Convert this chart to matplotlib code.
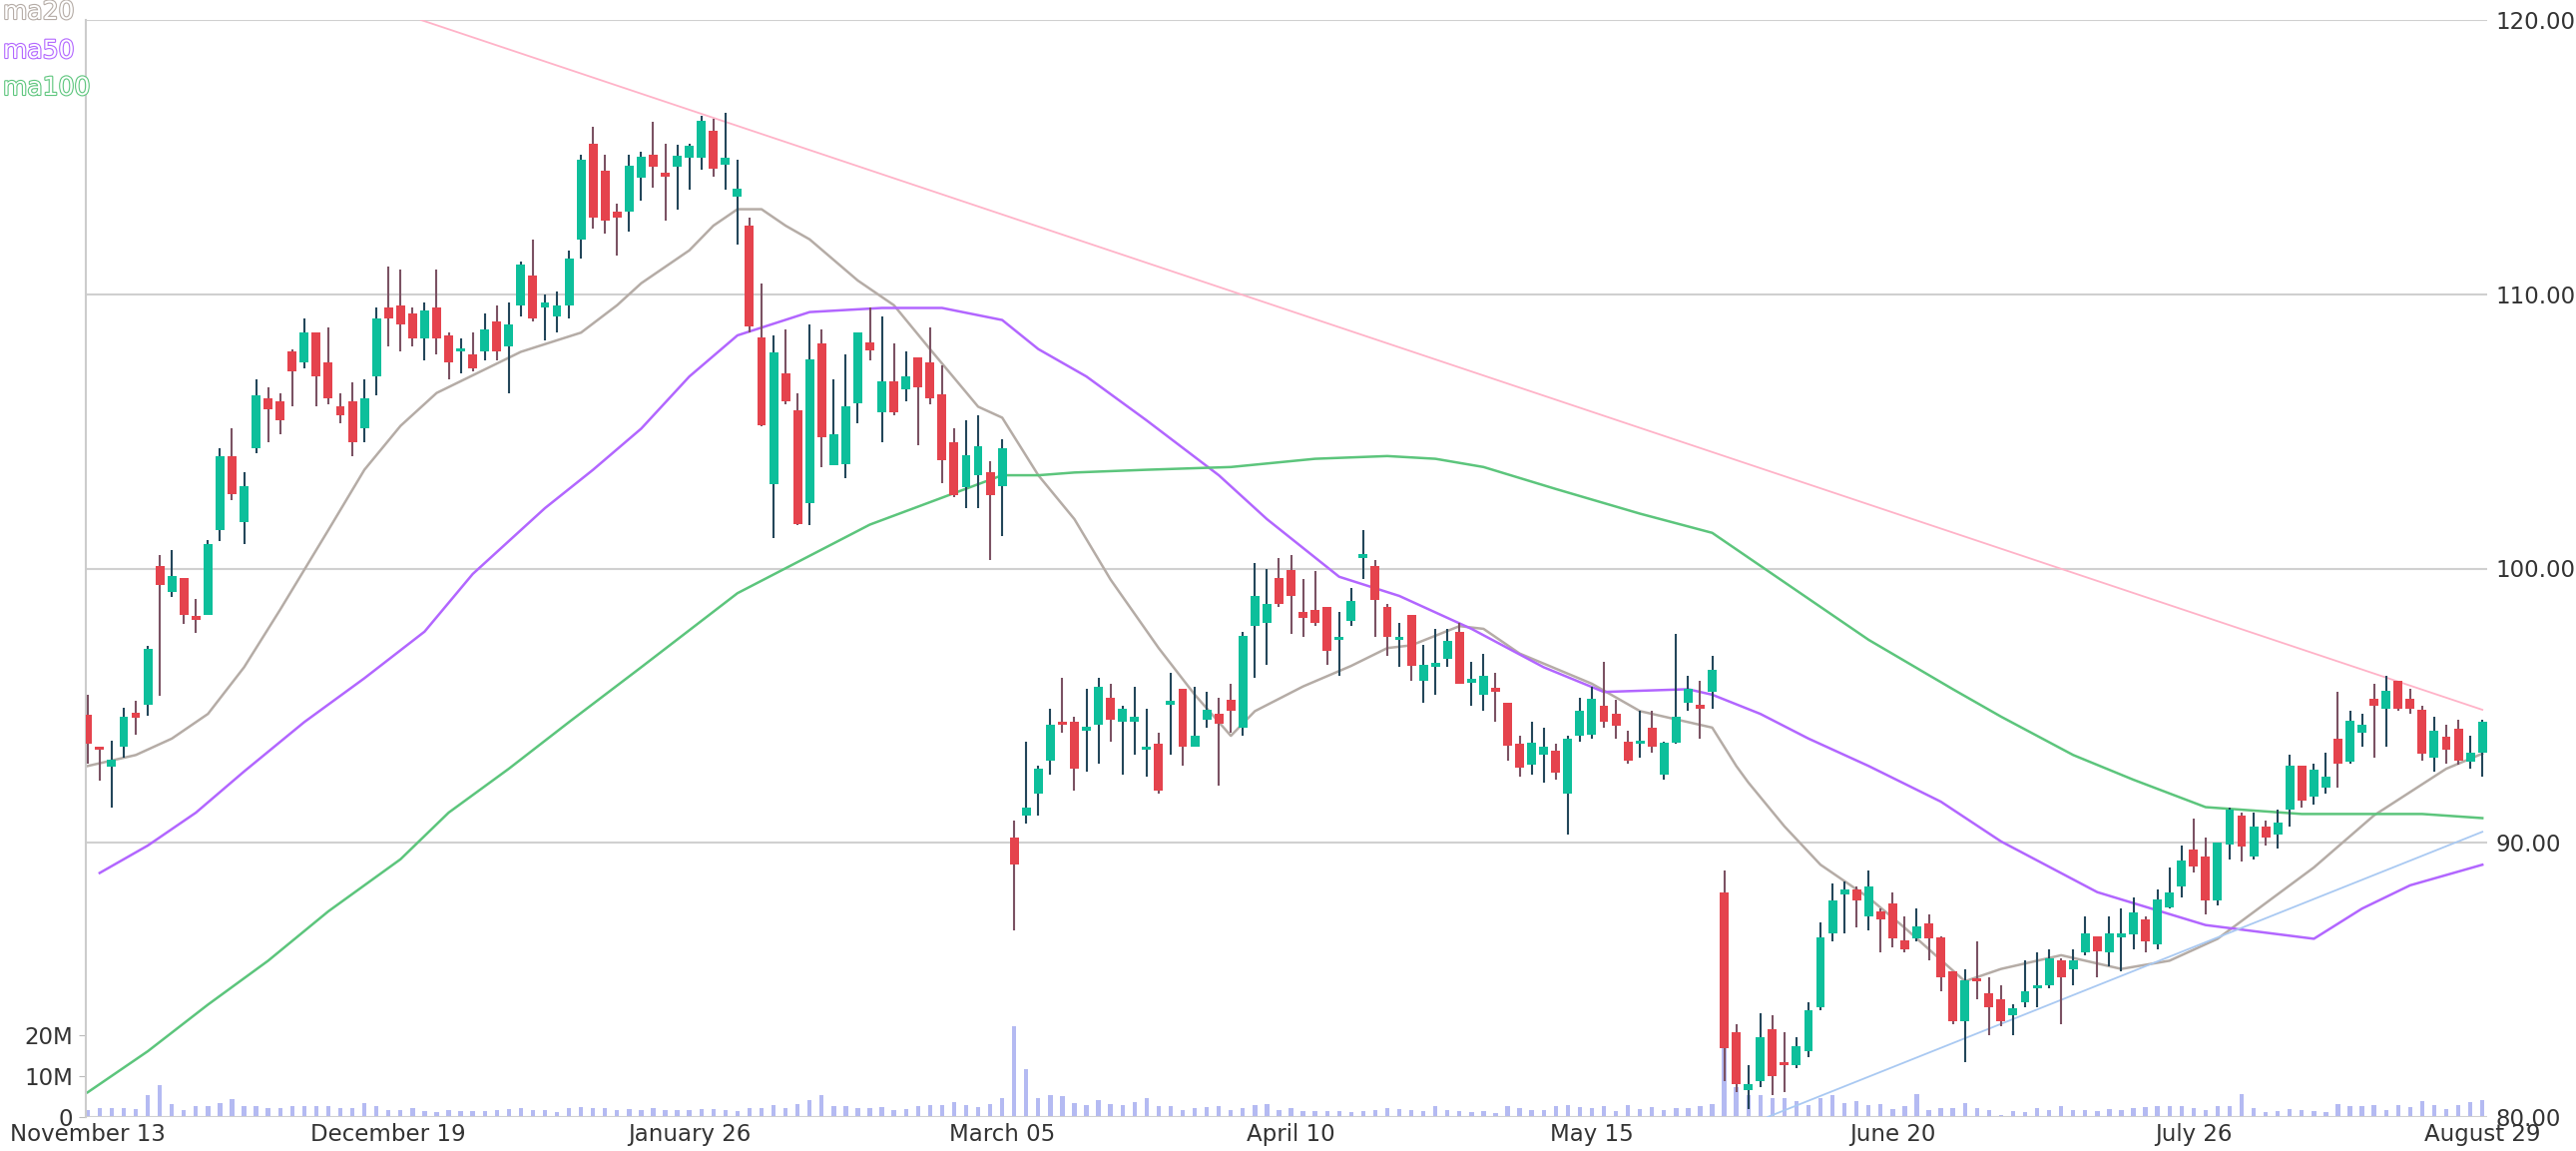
import matplotlib
matplotlib.use("Agg")
import matplotlib.pyplot as plt
import matplotlib.patheffects as pe
import numpy as np

opens = [94.67,93.43,92.76,93.49,94.74,95.04,100.1,99.16,99.65,98.28,98.32,101.4,104.1,101.7,104.4,106.2,106.1,107.9,107.5,108.6,
107.5,105.9,106.1,105.1,107.0,109.5,109.6,109.3,108.4,109.5,108.5,107.9,107.8,107.9,109.0,108.1,109.6,110.7,109.5,109.2,
109.6,112.0,115.5,114.5,113.0,113.0,114.24,115.08,114.4,114.64,114.97,114.99,115.96,114.73,113.57,112.52,108.42,103.06,107.1,105.78,
102.37,108.19,103.75,103.81,106.03,108.26,105.71,106.84,106.52,107.69,107.52,106.36,104.6,102.97,103.41,103.52,103.0,90.2,91.0,91.8,
93.0,94.4,94.4,94.1,94.3,95.3,94.4,94.4,93.4,93.6,95.05,95.6,93.5,94.5,94.7,95.2,94.2,97.9,98.0,99.65,
99.95,98.4,98.5,98.6,97.4,98.1,100.4,100.1,98.6,97.4,98.3,95.9,96.4,96.7,97.7,95.85,95.4,95.65,95.1,93.6,
92.85,93.2,93.35,91.8,93.9,93.95,95.0,94.7,93.7,93.6,94.2,92.5,93.65,95.1,95.05,95.5,88.2,83.1,81.0,81.3,
83.2,82.0,81.9,82.4,84.0,86.7,88.1,88.3,87.3,87.5,87.8,86.45,86.5,87.05,86.55,85.3,83.5,85.05,84.5,84.3,
83.7,84.2,84.7,84.8,85.7,85.4,86.0,86.6,86.0,86.55,86.65,87.2,86.3,87.65,88.4,89.75,89.5,87.9,89.95,91.0,
89.5,90.6,90.3,91.2,92.8,91.7,92.0,93.8,92.95,94.0,95.25,94.9,95.9,95.25,94.85,93.1,93.85,94.15,92.95,93.3]
closes = [93.61,93.40,93.04,94.58,94.55,97.07,99.4,99.73,98.31,98.14,100.9,104.1,102.7,103.0,106.3,105.8,105.4,107.2,108.6,107.0,
106.2,105.6,104.6,106.2,109.1,109.1,108.9,108.4,109.4,108.4,107.5,108.0,107.3,108.7,107.9,108.9,111.1,109.1,109.7,109.6,
111.3,114.9,112.8,112.7,112.8,114.7,115.0,114.65,114.3,115.05,115.42,116.33,114.57,114.99,113.86,108.82,105.24,107.88,106.1,101.62,
107.64,104.78,104.88,105.91,108.59,107.96,106.84,105.69,107.02,106.62,106.22,103.95,102.66,104.13,104.46,102.66,104.4,89.2,91.3,92.7,
94.3,94.3,92.7,94.2,95.7,94.5,94.9,94.6,93.5,91.9,95.15,93.5,93.9,94.85,94.35,94.8,97.55,99.0,98.7,98.7,
99.0,98.2,98.0,97.0,97.5,98.8,100.5,98.85,97.5,97.5,96.45,96.5,96.55,97.35,95.8,95.95,96.1,95.5,93.55,92.75,
93.65,93.5,92.55,93.8,94.8,95.25,94.4,94.25,93.0,93.7,93.5,93.65,94.6,95.6,94.9,96.3,82.5,81.2,81.2,82.9,
81.5,81.9,82.6,83.9,86.55,87.9,88.3,87.9,88.4,87.2,86.5,86.1,86.95,86.5,85.1,83.5,85.0,84.95,84.0,83.5,
83.95,84.6,84.8,85.8,85.1,85.7,86.7,86.05,86.7,86.7,87.45,86.4,87.95,88.2,89.35,89.15,87.9,90.0,91.2,89.85,
90.6,90.2,90.75,92.8,91.55,92.65,92.4,92.9,94.45,94.3,95.0,95.55,94.9,94.9,93.25,94.1,93.4,93.0,93.3,94.4]
highs = [95.4,93.5,93.71,94.91,95.16,97.19,100.49,100.68,99.65,98.9,101.04,104.4,105.1,103.5,106.9,106.6,106.4,108.0,109.1,108.6,
108.8,106.4,106.8,106.9,109.5,111.0,110.9,109.5,109.7,110.9,108.6,108.4,108.6,109.3,109.6,109.7,111.2,112.0,110.0,110.1,
111.6,115.1,116.1,115.1,113.3,115.1,115.2,116.3,115.5,115.45,115.5,116.5,116.4,116.6,114.9,112.8,110.4,108.5,108.7,106.4,
108.9,108.7,106.9,107.8,108.6,109.5,109.2,108.2,107.9,107.7,108.8,107.4,105.1,105.4,105.6,103.9,104.7,90.8,93.7,92.8,
94.9,96.0,94.6,95.6,96.0,95.8,95.0,95.7,94.9,94.0,96.2,95.6,95.7,95.5,95.3,95.8,97.7,100.2,100.0,100.4,
100.5,99.6,99.9,98.6,98.4,99.3,101.4,100.3,98.7,98.0,98.3,97.2,97.8,97.8,98.0,96.6,96.9,96.2,95.1,93.9,
94.4,94.2,93.6,93.9,95.3,95.7,96.6,95.2,94.1,94.8,94.8,93.7,97.6,96.1,95.9,96.8,89.0,83.4,81.9,83.8,
83.7,83.1,82.9,84.2,87.1,88.5,88.6,88.4,89.0,87.6,88.2,87.3,87.6,87.4,86.6,85.3,85.4,86.4,85.1,84.8,
84.1,85.7,86.0,86.1,85.8,86.1,87.3,86.6,87.3,87.6,88.0,87.3,88.3,89.1,89.9,90.9,90.2,90.0,91.3,91.1,
91.1,90.8,91.2,93.2,92.8,92.9,93.3,95.5,94.8,94.7,95.8,96.1,95.9,95.6,95.0,94.6,94.3,94.5,93.9,94.5]
lows = [92.9,92.25,91.27,93.1,93.94,94.64,95.37,98.95,97.98,97.65,98.32,101.0,102.5,100.9,104.2,104.6,104.9,105.9,107.3,105.9,
106.0,105.3,104.1,104.6,106.3,108.1,107.9,108.1,107.6,107.8,106.9,107.1,107.2,107.6,107.6,106.4,109.2,109.0,108.3,108.6,
109.1,111.3,112.4,112.2,111.4,112.3,113.4,113.9,112.7,113.1,113.8,114.55,114.3,113.8,111.8,108.6,105.2,101.1,106.0,101.6,
101.6,103.7,103.75,103.3,105.3,107.6,104.6,105.6,106.1,104.5,106.0,103.1,102.6,102.2,102.2,100.3,101.2,86.8,90.7,91.0,
92.5,94.0,91.9,92.6,92.9,93.7,92.5,93.2,92.4,91.8,93.2,92.8,93.5,94.2,92.1,94.0,93.9,96.0,96.5,98.6,
97.6,97.5,97.9,96.5,96.1,97.9,99.6,97.5,96.8,96.4,95.9,95.1,95.4,96.4,95.8,95.0,94.8,94.4,93.0,92.4,
92.5,92.2,92.3,90.3,93.7,93.8,94.2,93.8,92.9,93.1,93.3,92.3,93.6,94.8,93.8,94.9,81.3,80.9,80.3,81.1,
80.8,80.9,81.8,82.2,83.9,86.4,86.7,86.9,86.8,86.0,86.2,86.0,86.4,85.7,84.6,83.4,82.0,84.3,83.0,83.3,
83.0,84.0,84.0,84.7,83.4,84.8,85.9,85.1,85.5,85.3,86.1,86.0,86.1,87.6,88.0,88.9,87.4,87.7,89.4,89.3,
89.4,89.9,89.8,90.6,91.3,91.4,91.8,92.0,92.9,93.5,93.1,93.5,94.8,94.7,93.0,92.6,92.9,92.85,92.7,92.4]
volume_m = [1.8,2.2,2.1,2.2,2.0,5.3,7.9,3.1,1.8,2.6,2.6,3.4,4.3,2.6,2.8,2.1,2.2,2.7,2.6,2.6,
2.6,2.2,2.1,3.4,2.6,1.8,1.7,2.2,1.4,1.2,1.8,1.4,1.4,1.4,1.6,1.9,2.2,1.8,1.7,1.1,
2.2,2.4,2.1,2.3,1.6,1.9,1.8,2.2,1.8,1.6,1.7,1.9,1.9,1.8,1.4,2.2,2.1,2.9,2.2,3.1,
4.2,5.3,2.6,2.7,2.1,2.2,2.5,1.6,1.9,2.6,2.9,3.0,3.6,2.9,2.4,3.2,4.6,22.1,11.6,4.6,
5.4,5.0,3.4,2.9,4.2,3.2,2.9,3.6,4.6,2.8,2.7,1.6,2.1,2.4,2.7,1.8,2.1,2.9,3.1,1.7,
2.3,1.4,1.4,1.5,1.5,1.1,1.5,1.7,2.2,2.0,1.6,1.4,2.8,1.7,1.5,1.2,1.4,1.0,2.8,2.2,
1.8,1.8,2.6,3.0,2.5,2.2,2.6,1.4,2.9,1.9,2.4,1.7,2.2,2.3,2.7,3.1,17.6,7.4,5.4,5.3,
4.6,4.6,3.8,3.0,4.6,5.4,3.3,3.8,3.0,3.1,2.0,2.6,5.5,1.6,2.2,2.3,3.3,2.2,1.8,0.6,
1.4,1.2,2.2,1.7,2.6,1.7,1.7,1.4,1.9,1.8,2.2,2.5,2.6,2.6,2.8,2.2,1.7,2.8,2.8,5.5,
2.1,1.2,1.5,1.9,1.8,1.5,1.1,3.1,2.6,2.7,2.9,1.7,3.0,2.4,3.8,3.0,1.9,3.0,3.6,4.1]

ma20_idx = [0,4,7,10,13,16,20,23,26,29,36,41,44,46,48,50,52,54,56,58,60,64,67,70,74,76,79,82,85,89,92,95,97,101,105,108,110,114,116,119,125,129,134,135,137,138,141,144,148,151,156,159,164,169,173,177,185,190,196,199]
ma20_val = [92.8,93.2,93.8,94.7,96.4,98.5,101.4,103.6,105.2,106.4,107.9,108.6,109.6,110.4,111.0,111.6,112.5,113.1,113.1,112.5,112.0,110.5,109.6,108.0,105.9,105.5,103.4,101.8,99.6,97.1,95.4,93.9,94.8,95.7,96.45,97.1,97.2,97.9,97.8,96.9,95.8,94.8,94.3,94.2,92.8,92.2,90.6,89.2,88.0,86.9,84.95,85.4,85.9,85.4,85.7,86.5,89.1,91.0,92.7,93.25]
ma50_idx = [1,5,9,13,18,23,28,32,38,42,46,50,54,60,66,71,76,79,83,88,94,98,104,109,115,121,126,133,135,139,143,148,154,159,167,176,185,189,193,199]
ma50_val = [88.9,89.9,91.1,92.6,94.4,96.0,97.7,99.8,102.2,103.6,105.1,107.0,108.5,109.35,109.5,109.5,109.06,108.0,107.0,105.4,103.4,101.8,99.7,99.0,97.8,96.4,95.5,95.6,95.4,94.7,93.8,92.8,91.5,90.05,88.2,87.0,86.5,87.6,88.45,89.2]
ma100_idx = [0,5,10,15,20,26,30,35,40,46,54,65,76,79,82,88,95,102,108,112,116,122,129,135,139,142,148,155,159,165,170,176,184,194,199]
ma100_val = [80.9,82.4,84.1,85.7,87.5,89.4,91.1,92.7,94.4,96.4,99.1,101.6,103.4,103.4,103.5,103.6,103.7,104.0,104.1,104.0,103.7,102.9,102.0,101.3,100.1,99.2,97.4,95.6,94.6,93.2,92.3,91.3,91.05,91.05,90.9]

resist_x = [27.7, 199]
resist_y = [120.0, 94.85]
support_x = [139.6, 199]
support_y = [80.0, 90.4]

tick_idx = [0, 25, 50, 76, 100, 125, 150, 175, 199]
tick_labels = ["November 13", "December 19", "January 26", "March 05", "April 10",
               "May 15", "June 20", "July 26", "August 29"]
price_ticks = [80, 90, 100, 110, 120]
vol_ticks = [0, 10, 20]
vol_tick_labels = ["0", "10M", "20M"]

UP, DOWN = "#0dbf9b", "#e5434d"
UPW, DOWNW = "#23465a", "#7b5263"
C20, C50, C100 = "#b5aca6", "#b266ff", "#5cc57c"

fig = plt.figure(figsize=(25.81, 11.53), dpi=100)
ax = fig.add_axes([86/2581, 1-1119/1153, (2492-86)/2581, (1119-20)/1153])
axv = ax.twinx()
ax.set_zorder(axv.get_zorder() + 1)
ax.patch.set_visible(False)

n = len(opens)
x = np.arange(n)
o = np.array(opens); c = np.array(closes); h = np.array(highs); l = np.array(lows)
up = c >= o

# volume
axv.bar(x, volume_m, width=0.36, color="#b4baf2", zorder=1)
axv.set_ylim(0, 268)
axv.yaxis.tick_left()
axv.set_yticks(vol_ticks)
axv.set_yticklabels(vol_tick_labels, fontsize=16.5, color="#333333")
axv.tick_params(axis="y", length=5, color="#bbbbbb", pad=4)
for s in axv.spines.values():
    s.set_visible(False)

# grid
for p in price_ticks:
    ax.axhline(p, color="#d0d0d0", lw=1.5, zorder=0)

ax.plot(ma20_idx, ma20_val, color=C20, lw=1.8, zorder=2)
ax.plot(ma50_idx, ma50_val, color=C50, lw=1.8, zorder=2)
ax.plot(ma100_idx, ma100_val, color=C100, lw=1.8, zorder=2)
ax.plot(resist_x, resist_y, color="#ffb3c8", lw=1.3, zorder=2)
ax.plot(support_x, support_y, color="#a9c9f2", lw=1.3, zorder=2)

ax.vlines(x[up], l[up], h[up], color=UPW, lw=1.5, zorder=3)
ax.vlines(x[~up], l[~up], h[~up], color=DOWNW, lw=1.5, zorder=3)
body_lo = np.minimum(o, c)
body_h = np.maximum(np.abs(c - o), 0.12)
ax.bar(x[up], body_h[up], bottom=body_lo[up], width=0.74, color=UP, zorder=4)
ax.bar(x[~up], body_h[~up], bottom=body_lo[~up], width=0.74, color=DOWN, zorder=4)

ax.set_xlim(-0.15, n - 1 + 0.4)
ax.set_ylim(80, 120)
ax.yaxis.tick_right()
ax.set_yticks(price_ticks)
ax.set_yticklabels([f"{p:.2f}" for p in price_ticks], fontsize=16.5, color="#333333")
ax.tick_params(axis="y", length=0, pad=6)
ax.set_xticks(tick_idx)
ax.set_xticklabels(tick_labels, fontsize=16.5, color="#333333")
ax.tick_params(axis="x", length=0, pad=4)
for k, s in ax.spines.items():
    s.set_visible(False)
ax.spines["left"].set_visible(True)
ax.spines["left"].set_color("#cccccc")
ax.spines["left"].set_linewidth(1.5)

for txt, col, yy in [("ma20", C20, 12), ("ma50", C50, 51), ("ma100", C100, 88)]:
    fig.text(3/2581, 1 - yy/1153, txt, fontsize=18, color="white", va="center", ha="left",
             path_effects=[pe.Stroke(linewidth=1.6, foreground=col), pe.Normal()])

fig.savefig("out.png", dpi=100)
